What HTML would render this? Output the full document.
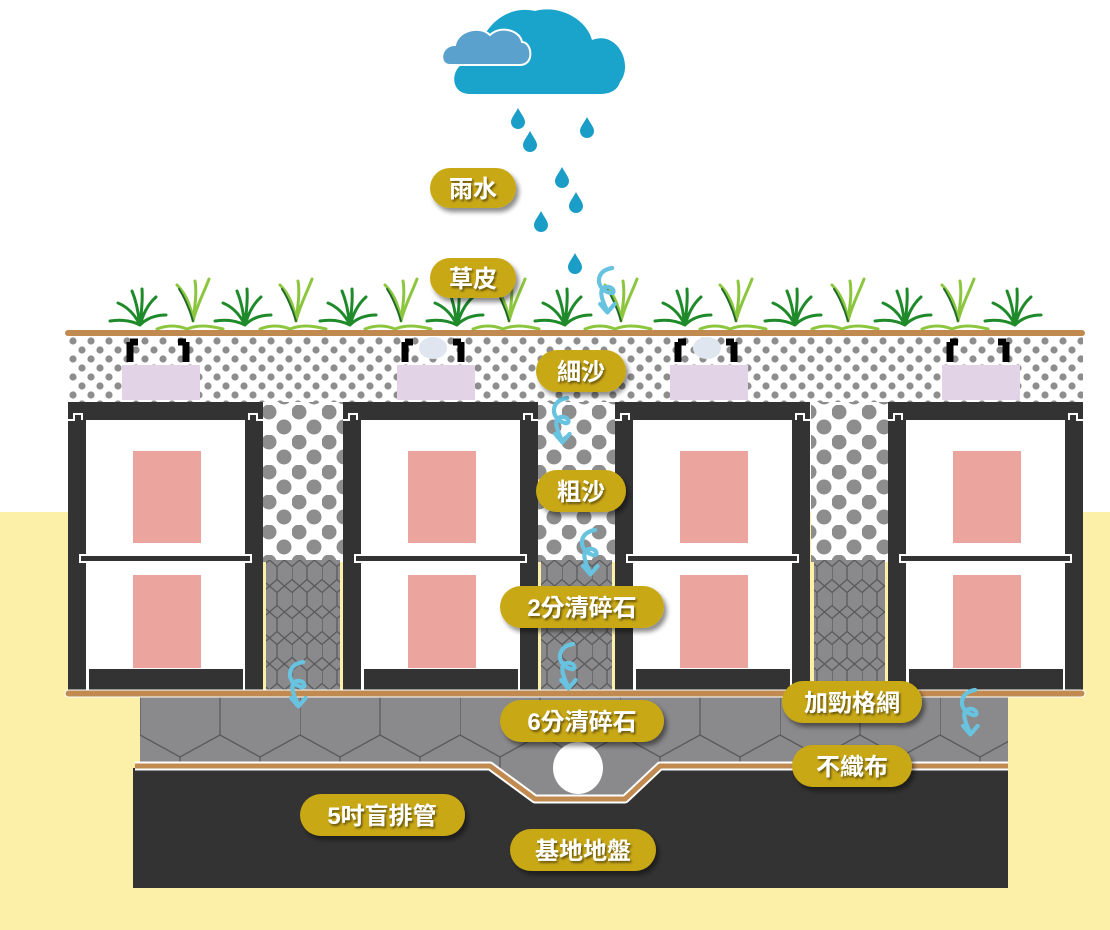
<!DOCTYPE html>
<html><head><meta charset="utf-8"><style>
html,body{margin:0;padding:0;background:#fff;}
svg{display:block;}
text{font-family:"Liberation Sans","Noto Sans CJK TC",sans-serif;font-weight:bold;fill:#fff;font-size:24px;}
</style></head><body>
<svg width="1110" height="930" viewBox="0 0 1110 930" xmlns="http://www.w3.org/2000/svg">
<defs>
<pattern id="fine" x="68" y="336" width="18" height="18" patternUnits="userSpaceOnUse">
<rect width="18" height="18" fill="#fff"/>
<circle cx="5" cy="5" r="3.6" fill="#8d8d8d"/><circle cx="14" cy="14" r="3.6" fill="#8d8d8d"/>
</pattern>
<pattern id="coarse" x="262" y="405" width="30" height="30" patternUnits="userSpaceOnUse">
<rect width="30" height="30" fill="#fff"/>
<circle cx="7" cy="7" r="7.5" fill="#8d8d8d"/><circle cx="22" cy="22" r="7.5" fill="#8d8d8d"/>
</pattern>
<pattern id="hex" x="262" y="560" width="30" height="26" patternUnits="userSpaceOnUse">
<rect width="30" height="26" fill="#8a898b"/>
<path d="M0 6.5 L7.5 0 L15 6.5 L15 19.5 L7.5 26 L0 19.5 Z M15 6.5 L22.5 0 L30 6.5 M15 19.5 L22.5 26 L30 19.5" fill="none" stroke="#5a5a5c" stroke-width="1.3"/>
</pattern>
<pattern id="bighex" x="140" y="697" width="160" height="95" patternUnits="userSpaceOnUse">
<rect width="160" height="95" fill="#8a898b"/>
<path d="M0 0 L0 38 L40 60 L80 38 L80 0 M80 38 L120 60 L160 38 M40 60 L40 95 M120 60 L120 95" fill="none" stroke="#5a5a5c" stroke-width="1.3"/>
</pattern>
<filter id="sh" x="-20%" y="-30%" width="140%" height="170%"><feDropShadow dx="3" dy="4" stdDeviation="2.5" flood-color="#000" flood-opacity="0.45"/></filter>
<filter id="tsh" x="-10%" y="-30%" width="120%" height="160%"><feDropShadow dx="1.5" dy="2" stdDeviation="1" flood-color="#000" flood-opacity="0.5"/></filter>
<g id="drop"><path d="M0 -11 C3 -5 7 -1 7 3 A7 7 0 0 1 -7 3 C-7 -1 -3 -5 0 -11 Z" fill="#1a9ec8"/></g>
<g id="mod">
<rect x="0" y="0" width="195" height="288" fill="#333"/>
<rect x="18" y="18" width="159" height="270" fill="#fff"/>
<path d="M0 18 L6 18 L6 12 L14 12 L14 18" fill="none" stroke="#fff" stroke-width="2"/>
<path d="M195 18 L189 18 L189 12 L181 12 L181 18" fill="none" stroke="#fff" stroke-width="2"/>
<rect x="12" y="153" width="171" height="7" fill="#333" stroke="#fff" stroke-width="2"/>
<rect x="65" y="49" width="68" height="92" fill="#eca49e"/>
<rect x="65" y="173" width="68" height="93" fill="#eca49e"/>
<rect x="21" y="267" width="154" height="21" fill="#333"/>
</g>
<g id="lid">
<rect x="0" y="29" width="78" height="35" fill="#e2d3e7"/>
<path d="M8 6 L8 26 M8 6 L16 6" stroke="#000" stroke-width="7" fill="none"/>
<path d="M64 6 L64 26 M64 6 L56 6" stroke="#000" stroke-width="7" fill="none"/>
</g>
<g id="tuft" fill="none" stroke-linecap="round">
<path d="M0 0 C-5 -10 -12 -18 -22 -22 M0 0 C-2 -12 -3 -22 -8 -34 M0 0 C1 -12 3 -22 2 -36 M0 0 C3 -10 7 -20 16 -28 M0 0 C6 -6 14 -10 26 -10 M0 0 C-8 -4 -18 -6 -30 -4" stroke="#1e8a2a" stroke-width="3"/>
</g>
<g id="tuft2" fill="none" stroke-linecap="round">
<path d="M-4 6 C0 -10 8 -25 12 -36 M-4 6 C-6 -10 -12 -22 -20 -30 M-4 6 C-2 -10 0 -22 -2 -34 M-10 14 C0 10 10 10 26 14 M-10 14 C-20 10 -30 10 -40 14" stroke="#8cc63f" stroke-width="3"/>
<path d="M-4 6 C-8 -8 -14 -20 -18 -26" stroke="#1e6a2a" stroke-width="2"/>
</g>
<g id="swirl" fill="none" stroke="#67c3e0" stroke-width="3.5" stroke-linecap="round" stroke-linejoin="round" transform="scale(1.2)">
<path d="M6 0 C-8 2 -8 16 2 20 C10 24 8 14 0 16 C-6 18 -2 28 2 36"/>
<path d="M-4 30 L2 37 L8 30"/>
</g>
</defs>

<rect x="0" y="512" width="1110" height="418" fill="#fcefa7"/>

<path d="M470 94 C446 94 450 58 478 60 C478 30 505 4 535 11 C560 4 587 20 592 40 C617 30 634 64 620 82 C617 92 607 94 600 94 Z" fill="#1aa3cb"/>
<path d="M450 65 C438 65 440 45 455 45 C458 30 480 25 490 35 C500 25 520 30 522 42 C532 42 535 65 520 65 Z" fill="#5aa2cd" stroke="#fff" stroke-width="2"/>
<use href="#drop" x="518" y="119"/><use href="#drop" x="587" y="128"/><use href="#drop" x="530" y="142"/>
<use href="#drop" x="562" y="178"/><use href="#drop" x="576" y="203"/><use href="#drop" x="541" y="222"/><use href="#drop" x="575" y="264"/>

<g>
<use href="#tuft" x="140" y="325"/><use href="#tuft2" x="197" y="315"/>
<use href="#tuft" x="245" y="325"/><use href="#tuft2" x="300" y="315"/>
<use href="#tuft" x="350" y="325"/><use href="#tuft2" x="405" y="315"/>
<use href="#tuft" x="457" y="325"/><use href="#tuft2" x="513" y="315"/>
<use href="#tuft" x="565" y="325"/><use href="#tuft2" x="625" y="315"/>
<use href="#tuft" x="685" y="325"/><use href="#tuft2" x="740" y="315"/>
<use href="#tuft" x="795" y="325"/><use href="#tuft2" x="852" y="315"/>
<use href="#tuft" x="905" y="325"/><use href="#tuft2" x="962" y="315"/>
<use href="#tuft" x="1015" y="325"/>
</g>

<rect x="68" y="336" width="1015" height="66" fill="url(#fine)"/>
<use href="#lid" x="122" y="336"/><use href="#lid" x="397" y="336"/><use href="#lid" x="670" y="336"/><use href="#lid" x="942" y="336"/>
<ellipse cx="433" cy="348" rx="14" ry="11" fill="#dfe6ef"/><ellipse cx="707" cy="348" rx="14" ry="11" fill="#dfe6ef"/>
<rect x="65" y="330" width="1020" height="6" rx="3" fill="#c08a50"/>

<rect x="263" y="402" width="80" height="160" fill="url(#coarse)"/>
<rect x="538" y="402" width="77" height="160" fill="url(#coarse)"/>
<rect x="811" y="402" width="77" height="160" fill="url(#coarse)"/>
<rect x="266" y="560" width="74" height="130" fill="url(#hex)"/>
<rect x="541" y="560" width="71" height="130" fill="url(#hex)"/>
<rect x="814" y="560" width="71" height="130" fill="url(#hex)"/>

<use href="#mod" x="68" y="402"/><use href="#mod" x="343" y="402"/><use href="#mod" x="615" y="402"/><use href="#mod" x="888" y="402"/>

<rect x="140" y="696" width="868" height="72" fill="url(#bighex)"/>
<path d="M133 768 L490 768 L535 800 L625 800 L660 768 L1008 768 L1008 888 L133 888 Z" fill="#333"/>
<path d="M490 768 L535 800 L625 800 L660 768 Z" fill="#8a898b"/>
<path d="M135 766 L490 766 L535 799 L625 799 L660 766 L1008 766" fill="none" stroke="#fff" stroke-width="9" stroke-linejoin="round"/>
<path d="M135 766 L490 766 L535 799 L625 799 L660 766 L1008 766" fill="none" stroke="#c08a50" stroke-width="5" stroke-linejoin="round"/>
<ellipse cx="578" cy="768" rx="25" ry="26" fill="#fff"/>
<rect x="65" y="690" width="1020" height="7" rx="3.5" fill="#c08a50" stroke="#fff" stroke-width="1"/>

<use href="#swirl" x="605" y="268"/>
<use href="#swirl" x="560" y="398"/>
<use href="#swirl" x="588" y="530"/>
<use href="#swirl" x="566" y="644"/>
<use href="#swirl" x="296" y="662"/>
<use href="#swirl" x="968" y="690"/>

<g filter="url(#sh)" fill="#c9a812">
<rect x="430" y="168" width="86" height="40" rx="20"/>
<rect x="430" y="258" width="86" height="40" rx="20"/>
<rect x="536" y="350" width="90" height="42" rx="21"/>
<rect x="536" y="470" width="90" height="42" rx="21"/>
<rect x="500" y="586" width="164" height="42" rx="21"/>
<rect x="500" y="700" width="164" height="42" rx="21"/>
<rect x="782" y="681" width="140" height="42" rx="21"/>
<rect x="792" y="745" width="120" height="42" rx="21"/>
<rect x="300" y="794" width="165" height="42" rx="21"/>
<rect x="510" y="829" width="146" height="42" rx="21"/>
</g>
<g text-anchor="middle" filter="url(#tsh)">
<text x="473" y="197">雨水</text>
<text x="473" y="287">草皮</text>
<text x="581" y="380">細沙</text>
<text x="581" y="500">粗沙</text>
<text x="582" y="616">2分清碎石</text>
<text x="582" y="730">6分清碎石</text>
<text x="852" y="711">加勁格網</text>
<text x="852" y="775">不織布</text>
<text x="382" y="824">5吋盲排管</text>
<text x="583" y="859">基地地盤</text>
</g>
</svg>
</body></html>
